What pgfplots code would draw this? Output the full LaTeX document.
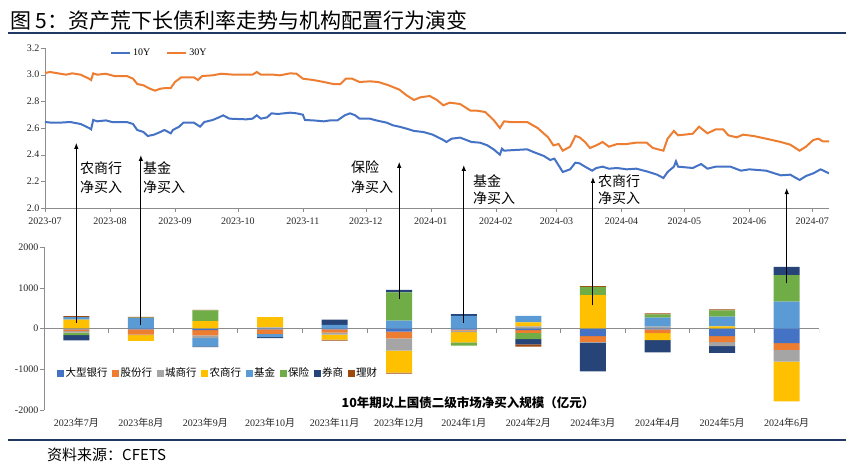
\documentclass[border=0pt]{standalone}
\usepackage{fontspec}
\setmainfont{Liberation Serif}
\newfontfamily\cjk{Noto Sans CJK SC}
\newcommand\zh[1]{{\cjk #1}}
\usepackage{pgfplots}
\pgfplotsset{compat=1.18}
\usepackage{pgfplotstable}
\usetikzlibrary{arrows.meta}

\definecolor{c1}{HTML}{4472C4}
\definecolor{c2}{HTML}{ED7D31}
\definecolor{c3}{HTML}{A5A5A5}
\definecolor{c4}{HTML}{FFC000}
\definecolor{c5}{HTML}{5B9BD5}
\definecolor{c6}{HTML}{70AD47}
\definecolor{c7}{HTML}{264478}
\definecolor{c8}{HTML}{9E480E}
\definecolor{navy}{HTML}{1F3864}
\definecolor{axgray}{HTML}{8C8C8C}

\pgfplotstableread{
x dx gf cs ns jj bx qs lc
0 0 0 0 220 60 0 0 25
1 0 0 0 0 255 15 0 15
2 0 0 0 180 0 265 0 10
3 0 0 25 255 0 0 0 0
4 0 0 0 0 90 0 130 0
5 0 0 0 0 195 690 65 0
6 0 0 0 0 310 0 40 0
7 0 0 50 100 160 0 0 0
8 0 0 0 820 0 200 0 20
9 0 0 45 0 220 80 0 25
10 0 0 0 55 235 155 0 25
11 0 0 0 0 660 650 200 0
}\posdata

\pgfplotstableread{
x dx gf cs ns jj bx qs lc
0 -20 -45 -35 0 0 -60 -130 0
1 -20 -130 -15 -140 0 0 0 0
2 -40 -130 -65 0 -205 0 -15 0
3 -20 -110 0 0 -80 0 -25 0
4 -20 -80 -50 -125 0 0 0 -20
5 -75 -165 -300 -540 0 0 0 -25
6 -30 -25 -35 -250 0 -80 0 0
7 -40 -70 0 0 0 -150 -130 -55
8 -190 -140 -25 0 0 0 -695 0
9 -20 -95 0 -170 0 0 -300 0
10 -190 -145 -100 0 0 0 -165 0
11 -360 -165 -285 -980 0 0 0 0
}\negdata

\pgfplotstableread{
d v
0 2.645
3 2.64
7 2.64
12 2.645
17 2.63
21 2.60
22 2.59
23 2.66
25 2.65
29 2.657
32 2.645
39 2.645
42 2.63
44 2.585
47 2.57
49 2.54
52 2.55
55 2.57
57 2.585
60 2.56
61 2.585
64 2.61
66 2.64
71 2.64
74 2.61
76 2.645
80 2.66
83 2.68
85 2.695
88 2.67
96 2.665
99 2.67
101 2.695
103 2.67
106 2.68
108 2.71
111 2.705
114 2.71
117 2.715
120 2.71
123 2.70
124 2.66
128 2.657
133 2.65
136 2.657
139.5 2.657
143 2.695
145.5 2.71
148 2.695
150 2.67
155 2.67
158 2.657
163 2.64
166 2.62
169 2.61
172.5 2.595
176 2.578
180.5 2.57
185 2.55
190 2.51
191.5 2.495
194 2.52
198 2.528
201 2.51
203.5 2.495
207.5 2.49
211 2.47
214 2.44
217 2.40
218 2.445
219 2.43
222 2.433
230 2.44
233 2.42
238 2.39
241 2.36
243 2.37
245 2.32
247 2.27
250.5 2.29
253 2.34
255 2.335
257.6 2.31
261 2.28
263 2.30
266 2.31
269 2.295
273 2.30
277.5 2.29
282 2.295
287 2.275
292 2.25
295 2.225
297 2.27
300 2.31
301 2.35
302 2.31
309 2.30
313 2.33
316 2.295
320 2.31
327 2.31
332 2.28
336 2.29
344 2.28
351 2.245
355.5 2.25
360 2.21
363 2.24
366.5 2.26
370 2.29
374 2.26
}\tenY

\pgfplotstableread{
d v
0 3.0125
2.4 3.02
10 3.0
13 3.01
17 3.0
21 2.97
22 2.96
23 3.01
25 3.0
29 3.007
33 2.99
39 2.99
42 2.97
44 2.93
47 2.92
50 2.895
52.5 2.88
55 2.895
58 2.90
60 2.90
62 2.945
65 2.98
71 2.98
73 2.96
75 2.99
80 2.995
84 3.007
90 3.0
99 3.0
101 3.02
103 3.0
109 3.0
112 2.995
117 3.01
120 3.007
123 2.97
128 2.96
133 2.945
137.5 2.93
141 2.93
143.5 2.97
146.5 2.97
150 2.945
155 2.95
159 2.945
164 2.92
169 2.888
172.5 2.845
176 2.81
179 2.83
183.5 2.84
187 2.81
190 2.77
193 2.79
198 2.78
203 2.73
206 2.73
210 2.72
214 2.66
217 2.60
219 2.65
222 2.645
230 2.645
235 2.60
240 2.53
242.5 2.47
245 2.48
247 2.43
250.5 2.46
253 2.54
255 2.53
257.6 2.495
260 2.45
263 2.47
266 2.495
269 2.46
273 2.48
277.5 2.48
282 2.49
287 2.49
290 2.45
295 2.43
297 2.52
300 2.578
302 2.545
309 2.557
312 2.61
316 2.56
320 2.59
323.5 2.59
326 2.545
330 2.53
333 2.55
338 2.54
344 2.52
351 2.495
355.5 2.475
360 2.43
363 2.46
366.5 2.51
369 2.52
371 2.50
374 2.50
}\thirtyY

\pgfplotsset{
  barax/.style={
    at={(44pt,-410pt)}, anchor=south west, scale only axis,
    width=775pt, height=163pt,
    xmin=-0.5, xmax=11.5, ymin=-2000, ymax=2000,
    ybar stacked, bar width=26pt,
  },
}

\begin{document}
\begin{tikzpicture}
\useasboundingbox (0,0) rectangle (852pt,-471pt);

% Title
\node[anchor=west, inner sep=0] at (10pt,-20pt) {\cjk\fontsize{21}{24}\selectfont 图 5：资产荒下长债利率走势与机构配置行为演变};
\draw[navy, line width=1.5pt] (8pt,-33pt) -- (846pt,-33pt);

% Top axis: yields
\begin{axis}[
  at={(45pt,-208pt)}, anchor=south west, scale only axis,
  width=784pt, height=160pt,
  xmin=0, xmax=374, ymin=2.0, ymax=3.2,
  axis x line*=bottom, axis y line*=left,
  axis line style={axgray},
  tick align=outside, major tick length=4pt,
  tick style={axgray},
  tick label style={font=\fontsize{10}{12}\selectfont, text=black!85, /tikz/inner sep=1.5pt},
  xticklabel style={yshift=-4pt},
  /pgf/number format/assume math mode=true,
  /pgf/number format/fixed,
  /pgf/number format/fixed zerofill,
  /pgf/number format/precision=1,
  xtick={0,31,62,92,123,153,184,215,244,275,305,336,366},
  xticklabels={2023-07,2023-08,2023-09,2023-10,2023-11,2023-12,2024-01,2024-02,2024-03,2024-04,2024-05,2024-06,2024-07},
  ytick={2.0,2.2,2.4,2.6,2.8,3.0,3.2},
  legend style={at={(0.0829,0.967)}, anchor=west, draw=none, fill=none,
    inner sep=0pt, font=\fontsize{10}{12}\selectfont,
    legend columns=2, /tikz/every even column/.append style={column sep=14pt},
    nodes={inner sep=2pt}},
  legend image code/.code={\draw[#1] (0pt,0pt) -- (19pt,0pt);},
  no markers,
]
\addplot[c1, line width=2pt] table[x=d, y=v] {\tenY};
\addlegendentry{10Y}
\addplot[c2, line width=2pt] table[x=d, y=v] {\thirtyY};
\addlegendentry{30Y}
\coordinate (t1) at (axis cs:0,2.489);
\coordinate (t2) at (axis cs:0,2.398);
\coordinate (t3) at (axis cs:0,2.346);
\coordinate (t4) at (axis cs:0,2.323);
\coordinate (t5) at (axis cs:0,2.233);
\coordinate (t6) at (axis cs:0,2.150);
\end{axis}

% Bottom axis: positive parts
\begin{axis}[
  barax,
  axis x line*=bottom, axis y line*=left,
  x axis line style={draw=none},
  y axis line style={axgray},
  xtick style={draw=none},
  ytick style={axgray},
  tick align=outside, major tick length=4pt,
  tick label style={font=\fontsize{10}{12}\selectfont, text=black!85, /tikz/inner sep=1.5pt},
  /pgf/number format/assume math mode=true,
  /pgf/number format/1000 sep={},
  ytick={-2000,-1000,0,1000,2000},
  xtick={0,...,11},
  xticklabels={2023\zh{年}7\zh{月},2023\zh{年}8\zh{月},2023\zh{年}9\zh{月},2023\zh{年}10\zh{月},2023\zh{年}11\zh{月},2023\zh{年}12\zh{月},2024\zh{年}1\zh{月},2024\zh{年}2\zh{月},2024\zh{年}3\zh{月},2024\zh{年}4\zh{月},2024\zh{年}5\zh{月},2024\zh{年}6\zh{月}},
  xticklabel style={yshift=-2pt},
  extra y ticks={0}, extra y tick labels={},
  extra y tick style={grid=major, major grid style={axgray, line width=0.8pt}, major tick length=0pt},
  legend style={at={(0.0168,0.227)}, anchor=west, draw=none, fill=none,
    inner sep=0pt, font=\cjk\fontsize{10.5}{12}\selectfont,
    legend columns=8, /tikz/every even column/.append style={column sep=3pt},
    nodes={inner sep=1.5pt}},
  every axis plot post/.append style={legend image code/.code={\fill[#1] (0pt,-3.5pt) rectangle (7pt,3.5pt);}},
]
\addplot[fill=c1, draw=none] table[x=x, y=dx] {\posdata}; \addlegendentry{大型银行}
\addplot[fill=c2, draw=none] table[x=x, y=gf] {\posdata}; \addlegendentry{股份行}
\addplot[fill=c3, draw=none] table[x=x, y=cs] {\posdata}; \addlegendentry{城商行}
\addplot[fill=c4, draw=none] table[x=x, y=ns] {\posdata}; \addlegendentry{农商行}
\addplot[fill=c5, draw=none] table[x=x, y=jj] {\posdata}; \addlegendentry{基金}
\addplot[fill=c6, draw=none] table[x=x, y=bx] {\posdata}; \addlegendentry{保险}
\addplot[fill=c7, draw=none] table[x=x, y=qs] {\posdata}; \addlegendentry{券商}
\addplot[fill=c8, draw=none] table[x=x, y=lc] {\posdata}; \addlegendentry{理财}
\pgfplotsinvokeforeach{0.5,1.5,2.5,3.5,4.5,5.5,6.5,7.5,8.5,9.5,10.5,11.5}{
  \draw[axgray, line width=0.8pt] (axis cs:#1,0) -- ++(0pt,-4pt);
}
\coordinate (b1) at (axis cs:0,147);
\coordinate (b2) at (axis cs:1,74);
\coordinate (b3) at (axis cs:5,712);
\coordinate (b4) at (axis cs:6,147);
\coordinate (b5) at (axis cs:8,565);
\coordinate (b6) at (axis cs:11,1105);
\end{axis}

% Bottom axis: negative parts
\begin{axis}[barax, hide axis]
\addplot[fill=c1, draw=none] table[x=x, y=dx] {\negdata};
\addplot[fill=c2, draw=none] table[x=x, y=gf] {\negdata};
\addplot[fill=c3, draw=none] table[x=x, y=cs] {\negdata};
\addplot[fill=c4, draw=none] table[x=x, y=ns] {\negdata};
\addplot[fill=c5, draw=none] table[x=x, y=jj] {\negdata};
\addplot[fill=c6, draw=none] table[x=x, y=bx] {\negdata};
\addplot[fill=c7, draw=none] table[x=x, y=qs] {\negdata};
\addplot[fill=c8, draw=none] table[x=x, y=lc] {\negdata};
\end{axis}

% Arrows
\foreach \i in {1,...,6}{
  \draw[black, line width=1pt, -{Latex[length=6pt,width=4.5pt]}] (b\i) -- (b\i |- t\i);
}

% Annotation labels
\begin{scope}[every node/.style={anchor=west, inner sep=0, font=\cjk\fontsize{14}{16}\selectfont}]
\node at (80pt,-168pt) {农商行};
\node at (80pt,-187pt) {净买入};
\node at (143pt,-168pt) {基金};
\node at (143pt,-187pt) {净买入};
\node at (351pt,-167pt) {保险};
\node at (351pt,-187pt) {净买入};
\node at (473pt,-181pt) {基金};
\node at (473pt,-198pt) {净买入};
\node at (598pt,-181pt) {农商行};
\node at (598pt,-198pt) {净买入};
\end{scope}

% Bottom chart title
\node[inner sep=0] at (468pt,-403pt) {\cjk\bfseries\fontsize{12.5}{14}\selectfont 10年期以上国债二级市场净买入规模（亿元）};

% Footer
\draw[navy, line width=1.5pt] (8pt,-440pt) -- (846pt,-440pt);
\node[anchor=west, inner sep=0] at (47pt,-455pt) {\cjk\fontsize{15}{17}\selectfont 资料来源：CFETS};
\end{tikzpicture}
\end{document}
